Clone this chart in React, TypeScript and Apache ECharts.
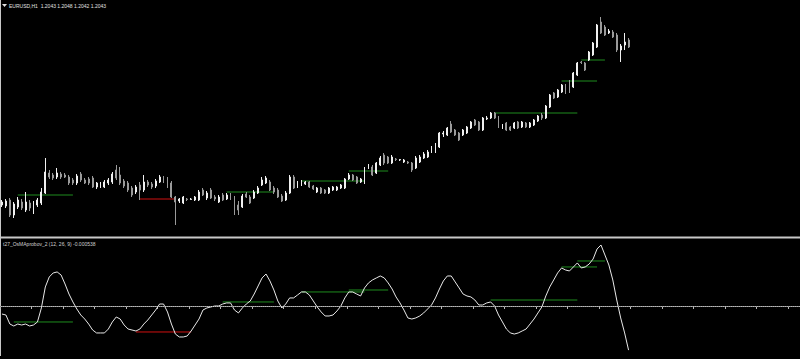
import React, { useEffect, useRef } from "react";
import * as echarts from "echarts";

const symbolTitle = "EURUSD,H1";
const lastQuote = ["1.2043", "1.2048", "1.2042", "1.2043"];
const indicatorTitle = "t27_OsMAprobov_2 (12, 26, 9) -0.000538";
const slotCount = 203;

const opens = [
  1.1880, 1.1879, 1.1885, 1.1870, 1.1878, 1.1883, 1.1875, 1.1882, 1.1872, 1.1880,
  1.1882, 1.1892, 1.1912, 1.1910, 1.1908, 1.1911, 1.1910, 1.1908, 1.1905, 1.1902,
  1.1911, 1.1905, 1.1906, 1.1907, 1.1898, 1.1899, 1.1898, 1.1902, 1.1903, 1.1915,
  1.1910, 1.1904, 1.1902, 1.1897, 1.1893, 1.1900, 1.1895, 1.1903, 1.1901, 1.1899,
  1.1903, 1.1907, 1.1906, 1.1902, 1.1888, 1.1884, 1.1882, 1.1886, 1.18855, 1.1885,
  1.1885, 1.1895, 1.1887, 1.1895, 1.1888, 1.1883, 1.1890, 1.1886, 1.1890, 1.1887,
  1.1880, 1.1878, 1.1891, 1.1888, 1.1887, 1.1892, 1.1900, 1.1902, 1.1903, 1.1897,
  1.1895, 1.1889, 1.1885, 1.1892, 1.1908, 1.1898, 1.1900, 1.1901, 1.1903, 1.1899,
  1.1893, 1.1897, 1.1895, 1.1892, 1.1895, 1.1895, 1.1897, 1.1897, 1.1906, 1.1910,
  1.1908, 1.1903, 1.1902, 1.1917, 1.1918, 1.1912, 1.1920, 1.1930, 1.1928, 1.1922,
  1.1926, 1.1925, 1.1923, 1.1923, 1.1922, 1.1917, 1.1923, 1.1927, 1.1928, 1.1933,
  1.1933, 1.1938, 1.1951, 1.1950, 1.1961, 1.1955, 1.1952, 1.1950, 1.1952, 1.1957,
  1.1965, 1.1963, 1.1955, 1.1966, 1.1967, 1.1972, 1.1968, 1.1957, 1.1962, 1.1958,
  1.1957, 1.1963, 1.1958, 1.1962, 1.1958, 1.1960, 1.1964, 1.1970, 1.1967, 1.1978,
  1.1992, 1.1988, 1.1993, 1.2000, 1.1998, 1.1998, 1.2010, 1.2023, 1.2022, 1.2025,
  1.2030, 1.2038, 1.2063, 1.2058, 1.2052, 1.2053, 1.2050, 1.2035, 1.2040, 1.2045
];
const closes = [
  1.1883, 1.1884, 1.1870, 1.1881, 1.1885, 1.1877, 1.1883, 1.1877, 1.1882, 1.1885,
  1.1893, 1.1913, 1.1908, 1.1907, 1.1912, 1.1908, 1.1908, 1.1902, 1.1902, 1.1909,
  1.1905, 1.1902, 1.1902, 1.1898, 1.1902, 1.1901, 1.1903, 1.1905, 1.1911, 1.1907,
  1.1902, 1.1899, 1.1895, 1.1890, 1.1898, 1.1895, 1.1903, 1.1900, 1.1898, 1.1904,
  1.1908, 1.1904, 1.1899, 1.1888, 1.1883, 1.1886, 1.1888, 1.18855, 1.1886, 1.1888,
  1.1893, 1.1890, 1.1892, 1.1887, 1.1886, 1.1888, 1.1885, 1.1890, 1.1887, 1.1874,
  1.1875, 1.1889, 1.1888, 1.1882, 1.1893, 1.1897, 1.1905, 1.1907, 1.1895, 1.1893,
  1.1888, 1.1884, 1.1892, 1.1908, 1.1897, 1.1901, 1.1903, 1.1903, 1.1898, 1.1896,
  1.1897, 1.1892, 1.1892, 1.1897, 1.1898, 1.1898, 1.1900, 1.1906, 1.1910, 1.1905,
  1.1902, 1.1906, 1.1917, 1.1920, 1.1910, 1.1922, 1.1927, 1.1922, 1.1922, 1.1928,
  1.19255, 1.19255, 1.1925, 1.1922, 1.1915, 1.1927, 1.1928, 1.1931, 1.1933, 1.1938,
  1.1940, 1.1952, 1.1952, 1.1957, 1.1953, 1.1950, 1.1945, 1.1955, 1.1958, 1.1963,
  1.1960, 1.1955, 1.1967, 1.1967, 1.1972, 1.1967, 1.1958, 1.1960, 1.1955, 1.1955,
  1.1962, 1.1957, 1.1963, 1.1958, 1.1962, 1.1965, 1.1969, 1.1967, 1.1979, 1.1990,
  1.1987, 1.1995, 1.2000, 1.1992, 1.1993, 1.2012, 1.2022, 1.20225, 1.2015, 1.2033,
  1.2042, 1.2060, 1.2052, 1.2050, 1.2054, 1.2048, 1.2035, 1.2039, 1.2043, 1.2038
];
const lows = [
  1.1878, 1.1877, 1.1868, 1.1867, 1.1876, 1.1875, 1.1873, 1.1874, 1.1871, 1.1878,
  1.1880, 1.1891, 1.1906, 1.1905, 1.1906, 1.1906, 1.1907, 1.1900, 1.1900, 1.1900,
  1.1903, 1.1901, 1.1900, 1.1897, 1.1896, 1.1897, 1.1897, 1.1900, 1.1901, 1.1905,
  1.1900, 1.1897, 1.1893, 1.1888, 1.1891, 1.1885, 1.1893, 1.1898, 1.1896, 1.1897,
  1.1902, 1.1902, 1.1897, 1.1887, 1.1860, 1.1882, 1.1881, 1.1884, 1.1885, 1.1884,
  1.1884, 1.1889, 1.1885, 1.1886, 1.1884, 1.1882, 1.1884, 1.1885, 1.1885, 1.1870,
  1.1870, 1.1877, 1.1887, 1.1881, 1.1886, 1.1891, 1.1899, 1.1901, 1.1894, 1.1891,
  1.1887, 1.1883, 1.1884, 1.1891, 1.1896, 1.1897, 1.1899, 1.1900, 1.1897, 1.1895,
  1.1892, 1.1891, 1.1891, 1.1891, 1.1894, 1.1894, 1.1896, 1.1896, 1.1905, 1.1904,
  1.1901, 1.1902, 1.1901, 1.1916, 1.1909, 1.1911, 1.1919, 1.1920, 1.1921, 1.1921,
  1.1924, 1.1924, 1.1922, 1.1921, 1.1913, 1.1916, 1.1922, 1.1926, 1.1927, 1.1932,
  1.1932, 1.1937, 1.1948, 1.1949, 1.1952, 1.1949, 1.1944, 1.1949, 1.1951, 1.1956,
  1.1959, 1.1954, 1.1954, 1.1965, 1.1966, 1.1966, 1.1957, 1.1956, 1.1954, 1.1954,
  1.1956, 1.1956, 1.1957, 1.1957, 1.1957, 1.1959, 1.1963, 1.1965, 1.1966, 1.1977,
  1.1986, 1.1987, 1.1992, 1.1991, 1.1992, 1.1997, 1.2009, 1.2021, 1.2014, 1.2024,
  1.2029, 1.2037, 1.2051, 1.2049, 1.2051, 1.2047, 1.2033, 1.2023, 1.2035, 1.2037
];
const highs = [
  1.1885, 1.1886, 1.1887, 1.1883, 1.1888, 1.1886, 1.1893, 1.1885, 1.1884, 1.1887,
  1.1897, 1.1927, 1.1915, 1.1912, 1.1917, 1.1913, 1.1912, 1.1910, 1.1907, 1.1911,
  1.1913, 1.1907, 1.1908, 1.1909, 1.1903, 1.1903, 1.1905, 1.1907, 1.1913, 1.1920,
  1.1918, 1.1906, 1.1904, 1.1899, 1.1900, 1.1903, 1.1910, 1.1905, 1.1903, 1.1906,
  1.1910, 1.1909, 1.1908, 1.1904, 1.1889, 1.1887, 1.1889, 1.1887, 1.1887, 1.1889,
  1.1895, 1.1897, 1.1894, 1.1897, 1.1890, 1.1890, 1.1892, 1.1892, 1.1892, 1.1889,
  1.1884, 1.1891, 1.1893, 1.1890, 1.1895, 1.1899, 1.1908, 1.1909, 1.1905, 1.1899,
  1.1897, 1.1891, 1.1894, 1.1910, 1.1910, 1.1904, 1.1905, 1.1904, 1.1904, 1.1900,
  1.1898, 1.1898, 1.1896, 1.1898, 1.1899, 1.1899, 1.1901, 1.1907, 1.1912, 1.1911,
  1.1909, 1.1907, 1.1918, 1.1921, 1.1920, 1.1923, 1.1929, 1.1932, 1.1929, 1.1930,
  1.1927, 1.1926, 1.1926, 1.1924, 1.1923, 1.1929, 1.1930, 1.1933, 1.1935, 1.1939,
  1.1942, 1.1953, 1.1954, 1.1958, 1.1964, 1.1956, 1.1953, 1.1956, 1.1959, 1.1964,
  1.1966, 1.1964, 1.1968, 1.1969, 1.1973, 1.1973, 1.1969, 1.1961, 1.1963, 1.1959,
  1.1963, 1.1964, 1.1964, 1.1963, 1.1963, 1.1966, 1.1970, 1.1972, 1.1980, 1.1991,
  1.1993, 1.1996, 1.2001, 1.2001, 1.2005, 1.2013, 1.2023, 1.2024, 1.2023, 1.2034,
  1.2043, 1.2061, 1.2068, 1.2060, 1.2056, 1.2055, 1.2052, 1.2041, 1.2052, 1.2047
];

const osma = [
  -0.000098, -0.000110, -0.000220, -0.000244, -0.000220, -0.000232, -0.000220, -0.000244, -0.000232, -0.000195,
  -0.000024, 0.000232, 0.000354, 0.000403, 0.000415, 0.000378, 0.000268, 0.000146, 0.000049, -0.000037,
  -0.000110, -0.000159, -0.000220, -0.000293, -0.000329, -0.000329, -0.000329, -0.000281, -0.000195, -0.000134,
  -0.000159, -0.000232, -0.000281, -0.000293, -0.000305, -0.000281, -0.000220, -0.000171, -0.000110, -0.000049,
  0.000024, 0.000024, -0.000073, -0.000220, -0.000342, -0.000378, -0.000378, -0.000366, -0.000305, -0.000232,
  -0.000159, -0.000049, -0.000024, -0.000012, 0.000000, 0.000000, 0.000024, 0.000037, 0.000037, -0.000049,
  -0.000085, -0.000024, 0.000024, 0.000061, 0.000146, 0.000244, 0.000342, 0.000390, 0.000305, 0.000195,
  0.000061, -0.000024, 0.000024, 0.000098, 0.000098, 0.000134, 0.000171, 0.000171, 0.000134, 0.000061,
  -0.000012, -0.000073, -0.000122, -0.000122, -0.000110, -0.000061, 0.000000, 0.000098, 0.000171, 0.000171,
  0.000146, 0.000122, 0.000220, 0.000281, 0.000317, 0.000342, 0.000366, 0.000342, 0.000281, 0.000207,
  0.000110, 0.000037, -0.000049, -0.000146, -0.000159, -0.000146, -0.000122, -0.000085, -0.000037, 0.000012,
  0.000098, 0.000207, 0.000305, 0.000366, 0.000366, 0.000293, 0.000220, 0.000146, 0.000122, 0.000110,
  0.000073, 0.000012, 0.000012, 0.000037, 0.000049, 0.000000, -0.000110, -0.000195, -0.000281, -0.000329,
  -0.000342, -0.000329, -0.000305, -0.000281, -0.000220, -0.000159, -0.000085, -0.000012, 0.000122, 0.000232,
  0.000317, 0.000403, 0.000464, 0.000439, 0.000427, 0.000476, 0.000525, 0.000464, 0.000476, 0.000512,
  0.000573, 0.000695, 0.000744, 0.000622, 0.000500, 0.000317, 0.000073, -0.000146, -0.000329, -0.000538
];

const priceLevelStart = [4, 35, 57, 76, 88, 125, 142, 147];
const priceLevelEnd = [18, 44, 69, 92, 98, 146, 151, 153];
const priceLevelValue = [1.1890, 1.1886, 1.1893, 1.1904, 1.1914, 1.1972, 1.2004, 1.2025];
const priceLevelKind = ["up", "down", "up", "up", "up", "up", "up", "up"];

const oscLevelStart = [3, 34, 56, 76, 88, 124, 142, 146];
const oscLevelEnd = [18, 48, 69, 92, 98, 146, 151, 153];
const oscLevelValue = [-0.000195, -0.000317, 0.000049, 0.000171, 0.000195, 0.000073, 0.000476, 0.000549];
const oscLevelKind = ["up", "down", "up", "up", "up", "up", "up", "up"];

const UP_COLOR = "#1e8c1e";
const DOWN_COLOR = "#d01010";

export default function App() {
  const ref = useRef<HTMLDivElement>(null);

  useEffect(() => {
    if (!ref.current) return;
    const chart = echarts.init(ref.current, undefined, { renderer: "svg" });
    const slots = Array.from({ length: slotCount }, (_, i) => String(i));
    const candles = opens.map((o, i) => [o, closes[i], lows[i], highs[i]]);

    const levelSeries = (starts: number[], ends: number[], vals: number[], kinds: string[], axis: number) =>
      starts.map((s, k) => ({
        type: "line",
        xAxisIndex: axis,
        yAxisIndex: axis,
        data: [[s, vals[k]], [ends[k], vals[k]]],
        showSymbol: false,
        symbol: "none",
        silent: true,
        lineStyle: { color: kinds[k] === "up" ? UP_COLOR : DOWN_COLOR, width: 1 },
        z: 3,
      }));

    chart.setOption({
      animation: false,
      backgroundColor: "#000000",
      grid: [
        { left: 0, right: 0, top: 0, height: 236 },
        { left: 0, right: 0, top: 239, height: 117 },
      ],
      xAxis: [
        { type: "category", gridIndex: 0, data: slots, boundaryGap: true, show: false },
        {
          type: "category",
          gridIndex: 1,
          data: slots,
          boundaryGap: true,
          axisLine: { show: true, lineStyle: { color: "#b8b8b8", width: 1 } },
          axisTick: { show: true, interval: 7, length: 3, lineStyle: { color: "#b8b8b8" } },
          axisLabel: { show: false },
          splitLine: { show: false },
        },
      ],
      yAxis: [
        { type: "value", gridIndex: 0, min: 1.1849, max: 1.2085, show: false, splitLine: { show: false } },
        { type: "value", gridIndex: 1, min: -0.00061, max: 0.000817, show: false, splitLine: { show: false } },
      ],
      series: [
        {
          type: "candlestick",
          xAxisIndex: 0,
          yAxisIndex: 0,
          data: candles,
          barWidth: 1.4,
          itemStyle: {
            color: "#ffffff",
            color0: "#8a8a8a",
            borderColor: "#f0f0f0",
            borderColor0: "#9a9a9a",
            borderWidth: 1,
          },
          z: 4,
        },
        ...levelSeries(priceLevelStart, priceLevelEnd, priceLevelValue, priceLevelKind, 0),
        {
          type: "line",
          xAxisIndex: 1,
          yAxisIndex: 1,
          data: osma,
          showSymbol: false,
          symbol: "none",
          lineStyle: { color: "#e8e8e8", width: 1 },
          z: 4,
          markLine: {
            silent: true,
            symbol: "none",
            label: { show: false },
            lineStyle: { color: "#8c8c8c", type: "dotted", width: 1 },
            emphasis: { disabled: true },
            data: [{ yAxis: 0 }],
          },
        },
        ...levelSeries(oscLevelStart, oscLevelEnd, oscLevelValue, oscLevelKind, 1),
      ],
      graphic: [
        { type: "line", shape: { x1: 0, y1: 237.5, x2: 800, y2: 237.5 }, style: { stroke: "#c8c8c8", lineWidth: 2 }, silent: true },
        { type: "line", shape: { x1: 0.5, y1: 0, x2: 0.5, y2: 356 }, style: { stroke: "#c8c8c8", lineWidth: 1 }, silent: true },
        { type: "polygon", shape: { points: [[2, 4], [7, 4], [4.5, 7]] }, style: { fill: "#e0e0e0" }, silent: true },
        {
          type: "text",
          x: 9,
          y: 3,
          style: {
            text: symbolTitle + "  " + lastQuote.join(" "),
            fill: "#e0e0e0",
            font: "5px 'Liberation Sans'",
          },
          silent: true,
        },
        {
          type: "text",
          x: 3,
          y: 241,
          style: { text: indicatorTitle, fill: "#d0d0d0", font: "5px 'Liberation Sans'" },
          silent: true,
        },
      ],
    });
    return () => chart.dispose();
  }, []);

  return (
    <div
      ref={ref}
      style={{ position: "fixed", left: 0, top: 0, width: 800, height: 359, background: "#000" }}
    />
  );
}
